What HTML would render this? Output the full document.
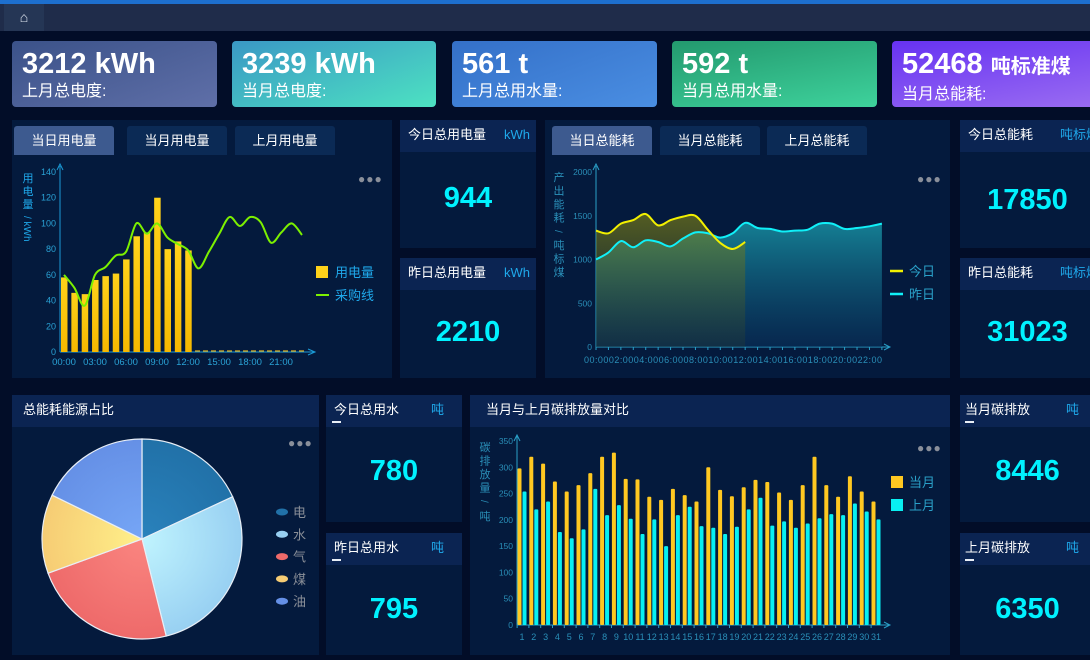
<!DOCTYPE html>
<html><head><meta charset="utf-8">
<style>
*{margin:0;padding:0;box-sizing:border-box}
body{width:1090px;height:660px;overflow:hidden;background:#020d28;font-family:"Liberation Sans","Noto Sans CJK SC",sans-serif;position:relative;color:#fff}
.a{position:absolute}
.kpi{position:absolute;top:41px;height:66px;border-radius:4px;padding:7px 10px}
.kpi b{display:block;font-size:29px;line-height:32px;font-weight:bold}
.kpi span{display:block;font-size:16px;line-height:24px}
.pan{position:absolute;background:#041a3d}
.hd{position:absolute;left:0;right:0;top:0;height:32px;background:#0b2452;font-size:13px;line-height:30px;padding-left:8px}
.hd i{font-style:normal;color:#1fa8ea;position:absolute;right:6px}
.hd u{position:absolute;left:6px;top:26px;width:9px;height:2px;background:#e8eef6}
.val{position:absolute;left:0;right:0;text-align:center;color:#00f2ff;font-weight:bold;font-size:29px}
.tab{position:absolute;top:126px;height:29px;width:100px;background:#0b2a55;font-size:13px;line-height:29px;text-align:center;border-radius:3px 3px 0 0}
.tab.on{background:#3d5a8f}
.dots{position:absolute;color:#8a8f9a;font-size:12px;letter-spacing:1px}
svg text{font-family:"Liberation Sans","Noto Sans CJK SC",sans-serif}
</style></head><body>
<div class="a" style="left:0;top:0;width:1090px;height:4px;background:#1d6fce"></div>
<div class="a" style="left:0;top:4px;width:1090px;height:27px;background:#1f2c4a"></div>
<div class="a" style="left:4px;top:4px;width:40px;height:27px;background:#253655;color:#dfe6f0;font-size:14px;text-align:center;line-height:27px">⌂</div>

<div class="kpi" style="left:12px;width:205px;background:linear-gradient(160deg,#3b5289,#5f6fa8)"><b>3212 kWh</b><span>上月总电度:</span></div>
<div class="kpi" style="left:232px;width:204px;background:linear-gradient(160deg,#3a98c4,#4de2c2)"><b>3239 kWh</b><span>当月总电度:</span></div>
<div class="kpi" style="left:452px;width:205px;background:linear-gradient(160deg,#3470c8,#4a8ee2)"><b>561 t</b><span>上月总用水量:</span></div>
<div class="kpi" style="left:672px;width:205px;background:linear-gradient(170deg,#23996e,#3ed29c)"><b>592 t</b><span>当月总用水量:</span></div>
<div class="kpi" style="left:892px;width:210px;background:linear-gradient(170deg,#6632f2,#9a6cf2)"><b>52468 <small style="font-size:20px">吨标准煤</small></b><span>当月总能耗:</span></div>

<div class="pan" style="left:12px;top:120px;width:380px;height:258px"></div>
<div class="tab on" style="left:14px">当日用电量</div>
<div class="tab" style="left:127px">当月用电量</div>
<div class="tab" style="left:235px">上月用电量</div>
<div class="dots" style="left:358px;top:172px">●●●</div>
<div class="pan" style="left:400px;top:120px;width:136px;height:128px"><div class="hd">今日总用电量<i>kWh</i></div><div class="val" style="top:62px">944</div></div>
<div class="pan" style="left:400px;top:258px;width:136px;height:120px"><div class="hd">昨日总用电量<i>kWh</i></div><div class="val" style="top:58px">2210</div></div>

<div class="pan" style="left:545px;top:120px;width:405px;height:258px"></div>
<div class="tab on" style="left:552px">当日总能耗</div>
<div class="tab" style="left:660px">当月总能耗</div>
<div class="tab" style="left:767px">上月总能耗</div>
<div class="dots" style="left:917px;top:172px">●●●</div>
<div class="pan" style="left:960px;top:120px;width:135px;height:128px"><div class="hd">今日总能耗<i style="right:-4px">吨标煤</i></div><div class="val" style="top:64px">17850</div></div>
<div class="pan" style="left:960px;top:258px;width:135px;height:120px"><div class="hd">昨日总能耗<i style="right:-4px">吨标煤</i></div><div class="val" style="top:58px">31023</div></div>

<div class="pan" style="left:12px;top:395px;width:307px;height:260px"><div class="hd" style="font-size:13px;padding-left:11px">总能耗能源占比</div></div>
<div class="dots" style="left:288px;top:436px">●●●</div>
<div class="pan" style="left:326px;top:395px;width:136px;height:127px"><div class="hd">今日总用水<i style="right:18px">吨</i><u></u></div><div class="val" style="top:60px">780</div></div>
<div class="pan" style="left:326px;top:533px;width:136px;height:122px"><div class="hd">昨日总用水<i style="right:18px">吨</i><u></u></div><div class="val" style="top:60px">795</div></div>
<div class="pan" style="left:470px;top:395px;width:480px;height:260px"><div class="hd" style="padding-left:16px">当月与上月碳排放量对比</div></div>
<div class="dots" style="left:917px;top:441px">●●●</div>
<div class="pan" style="left:960px;top:395px;width:135px;height:127px"><div class="hd" style="padding-left:5px">当月碳排放<i style="right:16px">吨</i><u style="left:5px"></u></div><div class="val" style="top:60px">8446</div></div>
<div class="pan" style="left:960px;top:533px;width:135px;height:122px"><div class="hd" style="padding-left:5px">上月碳排放<i style="right:16px">吨</i><u style="left:5px"></u></div><div class="val" style="top:60px">6350</div></div>

<svg id="s" class="a" style="left:0;top:0" width="1090" height="660"></svg>
<script>
var h='';
function sm(pts){var d='M'+pts[0][0]+','+pts[0][1];for(var i=1;i<pts.length;i++){var p0=pts[i-2]||pts[i-1],p1=pts[i-1],p2=pts[i],p3=pts[i+1]||p2;var c1x=p1[0]+(p2[0]-p0[0])/6,c1y=p1[1]+(p2[1]-p0[1])/6,c2x=p2[0]-(p3[0]-p1[0])/6,c2y=p2[1]-(p3[1]-p1[1])/6;d+=' C'+c1x.toFixed(1)+','+c1y.toFixed(1)+' '+c2x.toFixed(1)+','+c2y.toFixed(1)+' '+p2[0].toFixed(1)+','+p2[1].toFixed(1);}return d;}
function vt(x,y,s,col,fs,gap){var out='';for(var i=0;i<s.length;i++){out+='<text x="'+x+'" y="'+(y+i*gap)+'" fill="'+col+'" font-size="'+fs+'" text-anchor="middle">'+s[i]+'</text>';}return out;}
h+='<defs><linearGradient id="gy" x1="0" y1="0" x2="0" y2="1"><stop offset="0" stop-color="#ffd21a"/><stop offset="1" stop-color="#f5b800"/></linearGradient>'+
'<linearGradient id="ay" x1="0" y1="0" x2="0" y2="1"><stop offset="0" stop-color="#8a8a10" stop-opacity=".6"/><stop offset="1" stop-color="#3a4a20" stop-opacity=".2"/></linearGradient>'+
'<linearGradient id="ac" x1="0" y1="0" x2="0" y2="1"><stop offset="0" stop-color="#1aa0b0" stop-opacity=".75"/><stop offset="1" stop-color="#0a3560" stop-opacity=".5"/></linearGradient></defs>';
var ox=60,oy=352,ky=180/140;
h+='<line x1="'+ox+'" y1="'+oy+'" x2="'+ox+'" y2="166" stroke="#1b9ad6"/><path d="M'+(ox-3)+',170 L'+ox+',164 L'+(ox+3)+',170" stroke="#1b9ad6" fill="none"/>';
h+='<line x1="'+ox+'" y1="'+oy+'" x2="314" y2="'+oy+'" stroke="#1b9ad6"/><path d="M308,349 L315,352 L308,355" stroke="#1b9ad6" fill="none"/>';
[0,20,40,60,80,100,120,140].forEach(function(v){h+='<text x="'+(ox-4)+'" y="'+(oy-v*ky+3)+'" fill="#2aa3d6" font-size="9" text-anchor="end">'+v+'</text>';});
['00:00','03:00','06:00','09:00','12:00','15:00','18:00','21:00'].forEach(function(t,i){h+='<text x="'+(64+i*31)+'" y="365" fill="#2aa3d6" font-size="9.5" text-anchor="middle">'+t+'</text>';});
var b1=[58,46,45,56,59,61,72,90,93,120,80,86,79];
b1.forEach(function(v,i){h+='<rect x="'+(61+i*10.35)+'" y="'+(oy-v*ky)+'" width="6.5" height="'+(v*ky)+'" fill="url(#gy)"/>';});
h+='<line x1="195" y1="351" x2="305" y2="351" stroke="#e0b020" stroke-dasharray="5,3" stroke-width="1.2"/>';
var g1=[60,50,36,60,66,75,78,100,92,100,89,84,79,65,78,92,105,98,105,101,85,93,100,91];
h+='<path d="'+sm(g1.map(function(v,i){return[64+i*10.35,oy-v*ky]}))+'" stroke="#7cf000" stroke-width="2" fill="none"/>';
h+=vt(28,182,'用电量','#1fa8ea',11,13);
h+='<text x="24" y="216" fill="#1fa8ea" font-size="10" transform="rotate(90 24 216)">/ kWh</text>';
h+='<rect x="316" y="266" width="12" height="12" fill="#ffd21a"/><text x="335" y="277" fill="#1fa8ea" font-size="13">用电量</text>';
h+='<line x1="316" y1="295" x2="329" y2="295" stroke="#7cf000" stroke-width="2"/><text x="335" y="300" fill="#1fa8ea" font-size="13">采购线</text>';
var o2=596,y2=347,k2=175/2000,st=12.43;
h+='<line x1="'+o2+'" y1="'+y2+'" x2="'+o2+'" y2="166" stroke="#2aa0c8"/><path d="M593,170 L596,164 L599,170" stroke="#2aa0c8" fill="none"/>';
h+='<line x1="'+o2+'" y1="'+y2+'" x2="890" y2="'+y2+'" stroke="#2aa0c8"/><path d="M884,344 L890,347 L884,350" stroke="#2aa0c8" fill="none"/>';
for(var i=0;i<24;i++)h+='<line x1="'+(o2+i*st)+'" y1="'+y2+'" x2="'+(o2+i*st)+'" y2="'+(y2+3)+'" stroke="#2aa0c8"/>';
[0,500,1000,1500,2000].forEach(function(v){h+='<text x="'+(o2-4)+'" y="'+(y2-v*k2+3)+'" fill="#2a8fb8" font-size="8.5" text-anchor="end">'+v+'</text>';});
h+='<text x="584" y="363" fill="#2a8fb8" font-size="9" textLength="298">00:0002:0004:0006:0008:0010:0012:0014:0016:0018:0020:0022:00</text>';
var yd=[1000,1080,1210,1140,1220,1200,1150,1240,1310,1300,1250,1300,1420,1360,1350,1320,1330,1340,1410,1410,1350,1360,1380,1410];
var td=[1330,1300,1410,1450,1520,1390,1450,1490,1500,1340,1190,1120,1200];
var pY=yd.map(function(v,i){return[o2+i*st,y2-v*k2]}),pT=td.map(function(v,i){return[o2+i*st,y2-v*k2]});
h+='<path d="'+sm(pY)+' L'+(o2+23*st)+','+y2+' L'+o2+','+y2+'Z" fill="url(#ac)"/>';
h+='<path d="'+sm(pT)+' L'+(o2+12*st)+','+y2+' L'+o2+','+y2+'Z" fill="url(#ay)"/>';
h+='<path d="'+sm(pY)+'" stroke="#10f0f8" stroke-width="2" fill="none"/>';
h+='<path d="'+sm(pT)+'" stroke="#f2f000" stroke-width="2" fill="none"/>';
h+=vt(559,181,'产出能耗','#2a8fb8',11,13.5);
h+='<text x="555" y="230" fill="#2a8fb8" font-size="10" transform="rotate(90 555 230)">/</text>';
h+=vt(559,249,'吨标煤','#2a8fb8',11,13.5);
h+='<line x1="890" y1="271" x2="903" y2="271" stroke="#f2f000" stroke-width="2.5"/><text x="909" y="276" fill="#2aa0c8" font-size="13">今日</text>';
h+='<line x1="890" y1="294" x2="903" y2="294" stroke="#10f0f8" stroke-width="2.5"/><text x="909" y="299" fill="#2aa0c8" font-size="13">昨日</text>';
var o3=517,y3=625,k3=184/350,s3=11.8;
h+='<line x1="'+o3+'" y1="'+y3+'" x2="'+o3+'" y2="436" stroke="#2aa0c8"/><path d="M514,441 L517,435 L520,441" stroke="#2aa0c8" fill="none"/>';
h+='<line x1="'+o3+'" y1="'+y3+'" x2="890" y2="'+y3+'" stroke="#2aa0c8"/><path d="M884,622 L890,625 L884,628" stroke="#2aa0c8" fill="none"/>';
[0,50,100,150,200,250,300,350].forEach(function(v){h+='<text x="'+(o3-4)+'" y="'+(y3-v*k3+3)+'" fill="#2a8fb8" font-size="8.5" text-anchor="end">'+v+'</text>';});
var cu=[298,320,307,273,254,266,289,320,328,278,277,244,238,259,247,235,300,257,245,262,276,272,252,238,266,320,266,244,283,254,235];
var la=[254,220,235,177,165,182,259,209,228,202,173,201,150,209,225,188,185,173,187,220,242,189,197,185,193,203,211,209,231,216,201];
for(var i=0;i<31;i++){var c=522+i*s3;h+='<line x1="'+(c-s3/2+1)+'" y1="'+y3+'" x2="'+(c-s3/2+1)+'" y2="'+(y3+3)+'" stroke="#2aa0c8"/>';
h+='<rect x="'+(c-4.5)+'" y="'+(y3-cu[i]*k3)+'" width="4" height="'+(cu[i]*k3)+'" fill="#ffc821" rx="1"/>';
h+='<rect x="'+(c+0.5)+'" y="'+(y3-la[i]*k3)+'" width="4" height="'+(la[i]*k3)+'" fill="#08f0f2" rx="1"/>';
h+='<text x="'+c+'" y="640" fill="#2a8fb8" font-size="9" text-anchor="middle">'+(i+1)+'</text>';}
h+=vt(485,451,'碳排放量','#2a8fb8',11,13.5);
h+='<text x="481" y="500" fill="#2a8fb8" font-size="10" transform="rotate(90 481 500)">/</text>';
h+=vt(485,520,'吨','#2a8fb8',11,13.5);
h+='<rect x="891" y="476" width="12" height="12" fill="#ffc821"/><text x="909" y="487" fill="#2aa0c8" font-size="13">当月</text>';
h+='<rect x="891" y="499" width="12" height="12" fill="#08f0f2"/><text x="909" y="510" fill="#2aa0c8" font-size="13">上月</text>';
var cx=142,cy=539,r=100;
var sl=[[0,65,'#2a82bc','#2171a8','电'],[65,166,'#c0f4fe','#98d0f2','水'],[166,250,'#fa8580','#ee6a6a','气'],[250,296,'#fff08a','#f6cc74','煤'],[296,360,'#76a6f6','#6590e6','油']];
function pt(a){a=a*Math.PI/180;return[cx+r*Math.sin(a),cy-r*Math.cos(a)];}
sl.forEach(function(s,i){var p=pt(s[0]),q=pt(s[1]);h+='<defs><radialGradient id="p'+i+'" cx="'+cx+'" cy="'+cy+'" r="'+r+'" gradientUnits="userSpaceOnUse"><stop offset="0" stop-color="'+s[2]+'"/><stop offset="1" stop-color="'+s[3]+'"/></radialGradient></defs>';
h+='<path d="M'+cx+','+cy+' L'+p[0]+','+p[1]+' A'+r+','+r+' 0 '+(s[1]-s[0]>180?1:0)+' 1 '+q[0]+','+q[1]+'Z" fill="url(#p'+i+')" stroke="#e8eef6" stroke-width="1.2"/>';
var ly=512+i*22.3;h+='<ellipse cx="282" cy="'+ly+'" rx="6" ry="3.5" fill="'+s[3]+'"/><text x="293" y="'+(ly+5)+'" fill="#8a8f98" font-size="13">'+s[4]+'</text>';});
document.getElementById('s').innerHTML=h;
</script>
</body></html>
